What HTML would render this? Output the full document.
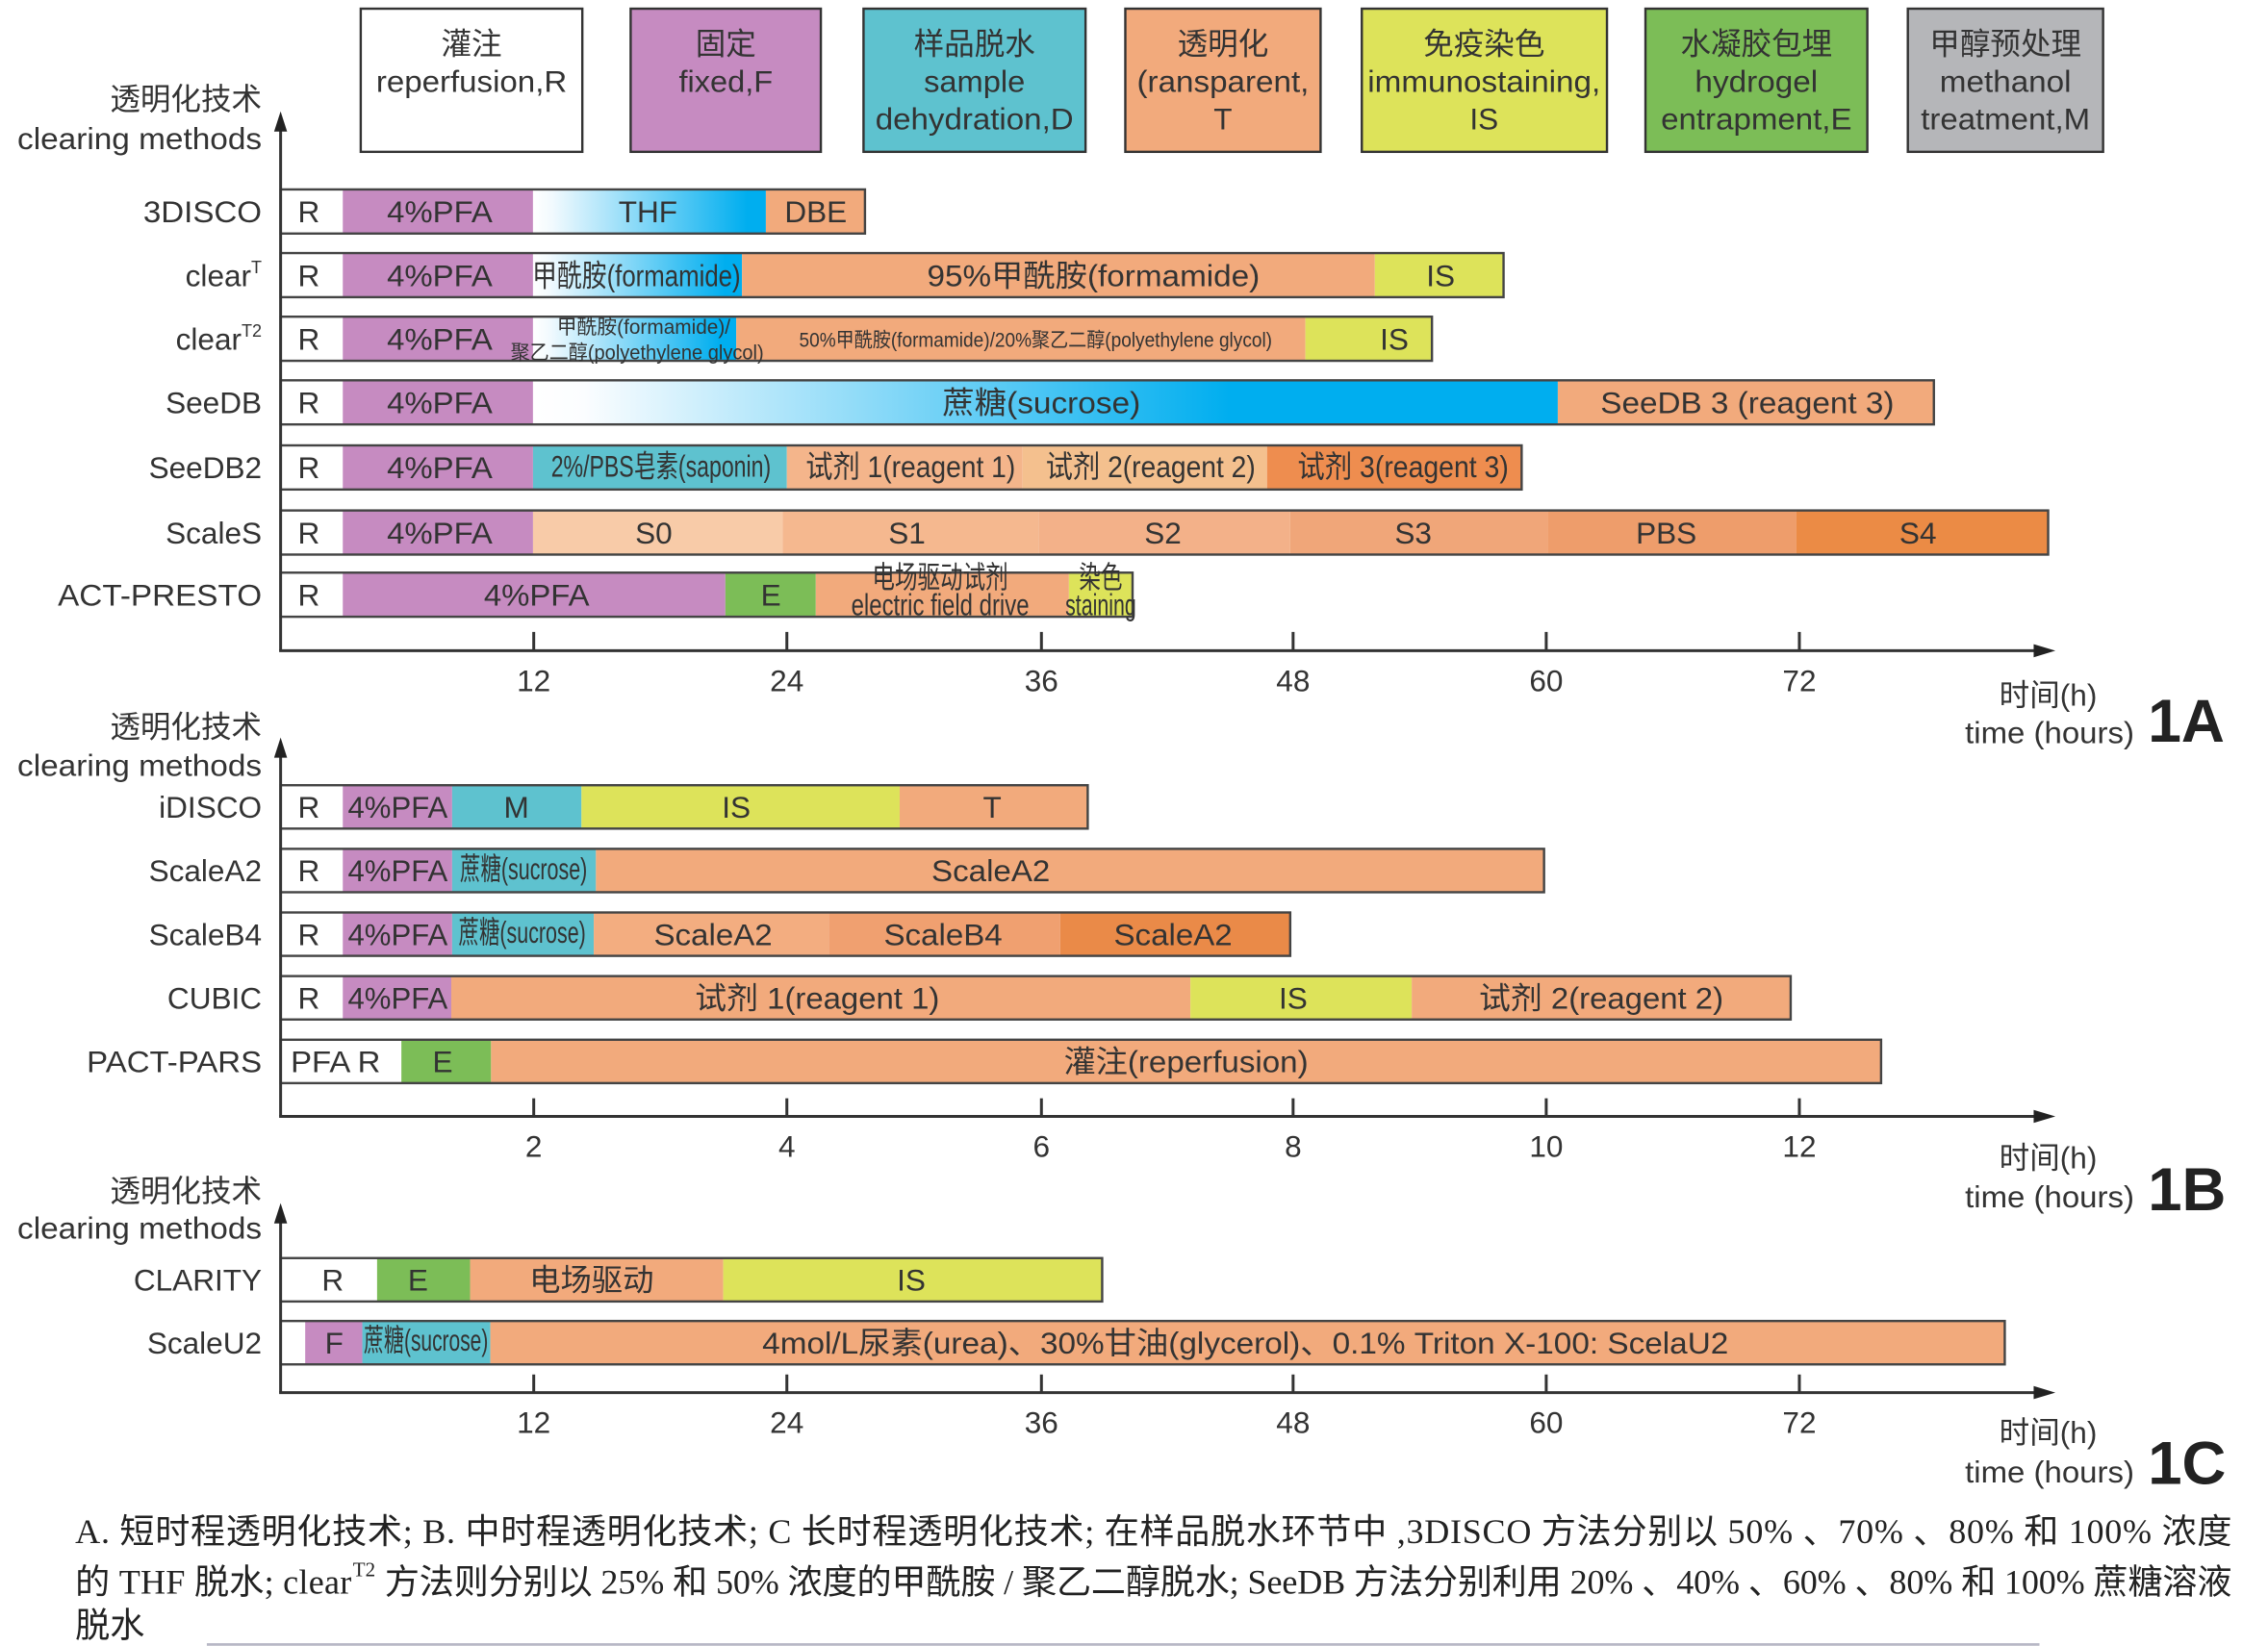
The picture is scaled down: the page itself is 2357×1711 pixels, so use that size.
<!DOCTYPE html>
<html>
<head>
<meta charset="utf-8">
<style>
html,body{margin:0;padding:0;background:#fff;}
svg{display:block;}
text{font-family:"Liberation Sans","Noto Sans CJK SC",sans-serif;fill:#333;font-size:21px;}
.cap{font-family:"Liberation Serif","Noto Sans CJK SC",serif;font-size:24px;fill:#222;}
.sm{font-size:14px;}
.b{font-weight:bold;font-size:42px;fill:#222;}
</style>
</head>
<body>
<svg xmlns="http://www.w3.org/2000/svg" width="2357" height="1711" viewBox="0 0 1568 1138.25" preserveAspectRatio="none">
<defs>
<linearGradient id="gA" x1="0" y1="0" x2="1" y2="0">
<stop offset="0" stop-color="#ffffff"/><stop offset="0.08" stop-color="#f2fafe"/><stop offset="0.92" stop-color="#00aeef"/><stop offset="1" stop-color="#00aeef"/>
</linearGradient>
<linearGradient id="gS" x1="0" y1="0" x2="1" y2="0">
<stop offset="0" stop-color="#ffffff"/><stop offset="0.05" stop-color="#fbfdff"/><stop offset="0.68" stop-color="#00aeef"/><stop offset="1" stop-color="#00aeef"/>
</linearGradient>
</defs>

<!-- Header legend boxes -->
<g stroke="#333" stroke-width="1.6">
<rect x="249.4" y="6" width="153.2" height="99" fill="#ffffff"/>
<rect x="436" y="6" width="131.5" height="99" fill="#c68bc1"/>
<rect x="597" y="6" width="153.5" height="99" fill="#5ec2cf"/>
<rect x="778" y="6" width="135" height="99" fill="#f2aa7c"/>
<rect x="941.5" y="6" width="169.5" height="99" fill="#dde35a"/>
<rect x="1137.6" y="6" width="153.4" height="99" fill="#7cbd57"/>
<rect x="1319" y="6" width="135" height="99" fill="#b5b6b9"/>
</g>
<g text-anchor="middle">
<text x="326" y="37.5">灌注</text>
<text x="326" y="63.5" textLength="132" lengthAdjust="spacingAndGlyphs">reperfusion,R</text>
<text x="501.8" y="37.5">固定</text>
<text x="501.8" y="63.5" textLength="65" lengthAdjust="spacingAndGlyphs">fixed,F</text>
<text x="673.7" y="37.5">样品脱水</text>
<text x="673.7" y="63.5" textLength="70" lengthAdjust="spacingAndGlyphs">sample</text>
<text x="673.7" y="89.5" textLength="137" lengthAdjust="spacingAndGlyphs">dehydration,D</text>
<text x="845.5" y="37.5">透明化</text>
<text x="845.5" y="63.5" textLength="119" lengthAdjust="spacingAndGlyphs">(ransparent,</text>
<text x="845.5" y="89.5">T</text>
<text x="1026" y="37.5">免疫染色</text>
<text x="1026" y="63.5" textLength="161" lengthAdjust="spacingAndGlyphs">immunostaining,</text>
<text x="1026" y="89.5">IS</text>
<text x="1214.3" y="37.5">水凝胶包埋</text>
<text x="1214.3" y="63.5" textLength="85" lengthAdjust="spacingAndGlyphs">hydrogel</text>
<text x="1214.3" y="89.5" textLength="132" lengthAdjust="spacingAndGlyphs">entrapment,E</text>
<text x="1386.5" y="37.5">甲醇预处理</text>
<text x="1386.5" y="63.5" textLength="91" lengthAdjust="spacingAndGlyphs">methanol</text>
<text x="1386.5" y="89.5" textLength="117" lengthAdjust="spacingAndGlyphs">treatment,M</text>
</g>

<!-- Axis titles -->
<g text-anchor="end">
<text x="181" y="76" font-size="22">透明化技术</text>
<text x="181" y="103" textLength="169" lengthAdjust="spacingAndGlyphs">clearing methods</text>
<text x="181" y="510" font-size="22">透明化技术</text>
<text x="181" y="536.5" textLength="169" lengthAdjust="spacingAndGlyphs">clearing methods</text>
<text x="181" y="831" font-size="22">透明化技术</text>
<text x="181" y="856.5" textLength="169" lengthAdjust="spacingAndGlyphs">clearing methods</text>
</g>

<!-- Row labels -->
<g text-anchor="end">
<text x="181" y="153.8" textLength="82" lengthAdjust="spacingAndGlyphs">3DISCO</text>
<text x="181" y="197.8">clear<tspan font-size="12" dy="-9">T</tspan></text>
<text x="181" y="241.8">clear<tspan font-size="12" dy="-9">T2</tspan></text>
<text x="181" y="285.8">SeeDB</text>
<text x="181" y="330.8">SeeDB2</text>
<text x="181" y="375.8">ScaleS</text>
<text x="181" y="418.8" textLength="141" lengthAdjust="spacingAndGlyphs">ACT-PRESTO</text>
<text x="181" y="565.5">iDISCO</text>
<text x="181" y="609.5">ScaleA2</text>
<text x="181" y="653.5">ScaleB4</text>
<text x="181" y="697.5">CUBIC</text>
<text x="181" y="741.5" textLength="121" lengthAdjust="spacingAndGlyphs">PACT-PARS</text>
<text x="181" y="892.5">CLARITY</text>
<text x="181" y="936">ScaleU2</text>
</g>

<!-- ===== Section A bars ===== -->
<!-- 3DISCO -->
<rect x="194" y="131" width="43" height="30.5" fill="#fff"/>
<rect x="237" y="131" width="131.5" height="30.5" fill="#c68bc1"/>
<rect x="368.5" y="131" width="161" height="30.5" fill="url(#gA)"/>
<rect x="529.5" y="131" width="68.5" height="30.5" fill="#f2aa7c"/>
<rect x="194" y="131" width="404" height="30.5" fill="none" stroke="#444" stroke-width="1.6"/>
<!-- clearT -->
<rect x="194" y="175" width="43" height="30.5" fill="#fff"/>
<rect x="237" y="175" width="131.5" height="30.5" fill="#c68bc1"/>
<rect x="368.5" y="175" width="144.5" height="30.5" fill="url(#gA)"/>
<rect x="513" y="175" width="437.5" height="30.5" fill="#f2aa7c"/>
<rect x="950.5" y="175" width="89" height="30.5" fill="#dde35a"/>
<rect x="194" y="175" width="845.5" height="30.5" fill="none" stroke="#444" stroke-width="1.6"/>
<!-- clearT2 -->
<rect x="194" y="219" width="43" height="30.5" fill="#fff"/>
<rect x="237" y="219" width="131.5" height="30.5" fill="#c68bc1"/>
<rect x="368.5" y="219" width="140.5" height="30.5" fill="url(#gA)"/>
<rect x="509" y="219" width="393.5" height="30.5" fill="#f2aa7c"/>
<rect x="902.5" y="219" width="87.5" height="30.5" fill="#dde35a"/>
<rect x="194" y="219" width="796" height="30.5" fill="none" stroke="#444" stroke-width="1.6"/>
<!-- SeeDB -->
<rect x="194" y="263" width="43" height="30.5" fill="#fff"/>
<rect x="237" y="263" width="131.5" height="30.5" fill="#c68bc1"/>
<rect x="368.5" y="263" width="708.5" height="30.5" fill="url(#gS)"/>
<rect x="1077" y="263" width="260" height="30.5" fill="#f2aa7c"/>
<rect x="194" y="263" width="1143" height="30.5" fill="none" stroke="#444" stroke-width="1.6"/>
<!-- SeeDB2 -->
<rect x="194" y="308" width="43" height="30.5" fill="#fff"/>
<rect x="237" y="308" width="131.5" height="30.5" fill="#c68bc1"/>
<rect x="368.5" y="308" width="175.5" height="30.5" fill="#5ec2cf"/>
<rect x="544" y="308" width="163" height="30.5" fill="#f4b58b"/>
<rect x="707" y="308" width="169" height="30.5" fill="#f4c08e"/>
<rect x="876" y="308" width="176" height="30.5" fill="#ee8d4f"/>
<rect x="194" y="308" width="858" height="30.5" fill="none" stroke="#444" stroke-width="1.6"/>
<!-- ScaleS -->
<rect x="194" y="353" width="43" height="30.5" fill="#fff"/>
<rect x="237" y="353" width="131.5" height="30.5" fill="#c68bc1"/>
<rect x="368.5" y="353" width="172.5" height="30.5" fill="#f8cba8"/>
<rect x="541" y="353" width="177" height="30.5" fill="#f5b88f"/>
<rect x="718" y="353" width="174" height="30.5" fill="#f3b189"/>
<rect x="892" y="353" width="178" height="30.5" fill="#f0a679"/>
<rect x="1070" y="353" width="172" height="30.5" fill="#ee9d6b"/>
<rect x="1242" y="353" width="174" height="30.5" fill="#eb8b45"/>
<rect x="194" y="353" width="1222" height="30.5" fill="none" stroke="#444" stroke-width="1.6"/>
<!-- ACT-PRESTO -->
<rect x="194" y="396" width="43" height="30.5" fill="#fff"/>
<rect x="237" y="396" width="264.5" height="30.5" fill="#c68bc1"/>
<rect x="501.5" y="396" width="62.5" height="30.5" fill="#7cbd57"/>
<rect x="564" y="396" width="175" height="30.5" fill="#f2aa7c"/>
<rect x="739" y="396" width="44" height="30.5" fill="#dde35a"/>
<rect x="194" y="396" width="589" height="30.5" fill="none" stroke="#444" stroke-width="1.6"/>

<g text-anchor="middle">
<text x="213.5" y="153.8">R</text>
<text x="304" y="153.8" textLength="73" lengthAdjust="spacingAndGlyphs">4%PFA</text>
<text x="448" y="153.8">THF</text>
<text x="564" y="153.8">DBE</text>

<text x="213.5" y="197.8">R</text>
<text x="304" y="197.8" textLength="73" lengthAdjust="spacingAndGlyphs">4%PFA</text>
<text x="440" y="197.8" textLength="144" lengthAdjust="spacingAndGlyphs">甲酰胺(formamide)</text>
<text x="756" y="197.8" textLength="230" lengthAdjust="spacingAndGlyphs">95%甲酰胺(formamide)</text>
<text x="996" y="197.8">IS</text>

<text x="213.5" y="241.8">R</text>
<text x="304" y="241.8" textLength="73" lengthAdjust="spacingAndGlyphs">4%PFA</text>
<text class="sm" x="445" y="231" textLength="120" lengthAdjust="spacingAndGlyphs">甲酰胺(formamide)/</text>
<text class="sm" x="440.5" y="248.5" textLength="175" lengthAdjust="spacingAndGlyphs">聚乙二醇(polyethylene glycol)</text>
<text class="sm" x="716" y="240" textLength="327" lengthAdjust="spacingAndGlyphs">50%甲酰胺(formamide)/20%聚乙二醇(polyethylene glycol)</text>
<text x="964" y="241.8">IS</text>

<text x="213.5" y="285.8">R</text>
<text x="304" y="285.8" textLength="73" lengthAdjust="spacingAndGlyphs">4%PFA</text>
<text x="720" y="285.8" textLength="137" lengthAdjust="spacingAndGlyphs">蔗糖(sucrose)</text>
<text x="1208" y="285.8" textLength="203" lengthAdjust="spacingAndGlyphs">SeeDB 3 (reagent 3)</text>

<text x="213.5" y="330.8">R</text>
<text x="304" y="330.8" textLength="73" lengthAdjust="spacingAndGlyphs">4%PFA</text>
<text x="457" y="329.5" font-size="17" textLength="152" lengthAdjust="spacingAndGlyphs">2%/PBS皂素(saponin)</text>
<text x="629.5" y="330" font-size="19" textLength="145" lengthAdjust="spacingAndGlyphs">试剂 1(reagent 1)</text>
<text x="795.5" y="330" font-size="19" textLength="145" lengthAdjust="spacingAndGlyphs">试剂 2(reagent 2)</text>
<text x="970" y="330" font-size="19" textLength="146" lengthAdjust="spacingAndGlyphs">试剂 3(reagent 3)</text>

<text x="213.5" y="375.8">R</text>
<text x="304" y="375.8" textLength="73" lengthAdjust="spacingAndGlyphs">4%PFA</text>
<text x="452" y="375.8">S0</text>
<text x="627" y="375.8">S1</text>
<text x="804" y="375.8">S2</text>
<text x="977" y="375.8">S3</text>
<text x="1152" y="375.8">PBS</text>
<text x="1326" y="375.8">S4</text>

<text x="213.5" y="418.8">R</text>
<text x="371" y="418.8" textLength="73" lengthAdjust="spacingAndGlyphs">4%PFA</text>
<text x="533" y="418.8">E</text>
<text x="650" y="406.5" font-size="15" textLength="94" lengthAdjust="spacingAndGlyphs">电场驱动试剂</text>
<text x="650" y="425.5" font-size="15" textLength="123" lengthAdjust="spacingAndGlyphs">electric field drive</text>
<text x="761" y="406.5" font-size="15" textLength="30" lengthAdjust="spacingAndGlyphs">染色</text>
<text x="761" y="425.5" font-size="14" textLength="49" lengthAdjust="spacingAndGlyphs">staining</text>
</g>

<!-- Axis A -->
<g stroke="#333" stroke-width="2" fill="none">
<line x1="194" y1="88" x2="194" y2="450"/>
<line x1="193" y1="450" x2="1408" y2="450"/>
<line x1="369" y1="437" x2="369" y2="450"/>
<line x1="544" y1="437" x2="544" y2="450"/>
<line x1="720" y1="437" x2="720" y2="450"/>
<line x1="894" y1="437" x2="894" y2="450"/>
<line x1="1069" y1="437" x2="1069" y2="450"/>
<line x1="1244" y1="437" x2="1244" y2="450"/>
</g>
<polygon points="194,77 189.5,91 198.5,91" fill="#222"/>
<polygon points="1421,450 1406,445.5 1406,454.5" fill="#222"/>
<g text-anchor="middle" font-size="20">
<text x="369" y="478" font-size="20">12</text>
<text x="544" y="478" font-size="20">24</text>
<text x="720" y="478" font-size="20">36</text>
<text x="894" y="478" font-size="20">48</text>
<text x="1069" y="478" font-size="20">60</text>
<text x="1244" y="478" font-size="20">72</text>
<text x="1416" y="488">时间(h)</text>
<text x="1417" y="514" textLength="117" lengthAdjust="spacingAndGlyphs">time (hours)</text>
</g>
<text class="b" x="1485" y="513" textLength="53" lengthAdjust="spacingAndGlyphs">1A</text>

<!-- ===== Section B bars ===== -->
<!-- iDISCO -->
<rect x="194" y="543" width="43" height="30" fill="#fff"/>
<rect x="237" y="543" width="75.6" height="30" fill="#c68bc1"/>
<rect x="312.6" y="543" width="89.4" height="30" fill="#5ec2cf"/>
<rect x="402" y="543" width="220" height="30" fill="#dde35a"/>
<rect x="622" y="543" width="130" height="30" fill="#f2aa7c"/>
<rect x="194" y="543" width="558" height="30" fill="none" stroke="#444" stroke-width="1.6"/>
<!-- ScaleA2 -->
<rect x="194" y="587" width="43" height="30" fill="#fff"/>
<rect x="237" y="587" width="75.6" height="30" fill="#c68bc1"/>
<rect x="312.6" y="587" width="99.4" height="30" fill="#5ec2cf"/>
<rect x="412" y="587" width="655.5" height="30" fill="#f2aa7c"/>
<rect x="194" y="587" width="873.5" height="30" fill="none" stroke="#444" stroke-width="1.6"/>
<!-- ScaleB4 -->
<rect x="194" y="631" width="43" height="30" fill="#fff"/>
<rect x="237" y="631" width="75.6" height="30" fill="#c68bc1"/>
<rect x="312.6" y="631" width="97.9" height="30" fill="#5ec2cf"/>
<rect x="410.5" y="631" width="162.5" height="30" fill="#f3ad80"/>
<rect x="573" y="631" width="160" height="30" fill="#f0a070"/>
<rect x="733" y="631" width="159" height="30" fill="#ea8a48"/>
<rect x="194" y="631" width="698" height="30" fill="none" stroke="#444" stroke-width="1.6"/>
<!-- CUBIC -->
<rect x="194" y="675" width="43" height="30" fill="#fff"/>
<rect x="237" y="675" width="75" height="30" fill="#c68bc1"/>
<rect x="312" y="675" width="511" height="30" fill="#f2aa7c"/>
<rect x="823" y="675" width="153" height="30" fill="#dde35a"/>
<rect x="976" y="675" width="262" height="30" fill="#f2aa7c"/>
<rect x="194" y="675" width="1044" height="30" fill="none" stroke="#444" stroke-width="1.6"/>
<!-- PACT-PARS -->
<rect x="194" y="719" width="83.5" height="30" fill="#fff"/>
<rect x="277.5" y="719" width="62" height="30" fill="#7cbd57"/>
<rect x="339.5" y="719" width="961" height="30" fill="#f2aa7c"/>
<rect x="194" y="719" width="1106.5" height="30" fill="none" stroke="#444" stroke-width="1.6"/>

<g text-anchor="middle">
<text x="213.5" y="565.5">R</text>
<text x="275" y="565.5" textLength="69" lengthAdjust="spacingAndGlyphs">4%PFA</text>
<text x="357" y="565.5">M</text>
<text x="509" y="565.5">IS</text>
<text x="686" y="565.5">T</text>

<text x="213.5" y="609.5">R</text>
<text x="275" y="609.5" textLength="69" lengthAdjust="spacingAndGlyphs">4%PFA</text>
<text x="362" y="608" font-size="15" textLength="88" lengthAdjust="spacingAndGlyphs">蔗糖(sucrose)</text>
<text x="685" y="609.5" textLength="82" lengthAdjust="spacingAndGlyphs">ScaleA2</text>

<text x="213.5" y="653.5">R</text>
<text x="275" y="653.5" textLength="69" lengthAdjust="spacingAndGlyphs">4%PFA</text>
<text x="361" y="652" font-size="15" textLength="88" lengthAdjust="spacingAndGlyphs">蔗糖(sucrose)</text>
<text x="493" y="653.5" textLength="82" lengthAdjust="spacingAndGlyphs">ScaleA2</text>
<text x="652" y="653.5" textLength="82" lengthAdjust="spacingAndGlyphs">ScaleB4</text>
<text x="811" y="653.5" textLength="82" lengthAdjust="spacingAndGlyphs">ScaleA2</text>

<text x="213.5" y="697.5">R</text>
<text x="275" y="697.5" textLength="69" lengthAdjust="spacingAndGlyphs">4%PFA</text>
<text x="565" y="697.5" textLength="169" lengthAdjust="spacingAndGlyphs">试剂 1(reagent 1)</text>
<text x="894" y="697.5">IS</text>
<text x="1107" y="697.5" textLength="169" lengthAdjust="spacingAndGlyphs">试剂 2(reagent 2)</text>

<text x="232" y="741.5" textLength="62" lengthAdjust="spacingAndGlyphs">PFA R</text>
<text x="306" y="741.5">E</text>
<text x="820" y="741.5" textLength="169" lengthAdjust="spacingAndGlyphs">灌注(reperfusion)</text>
</g>

<!-- Axis B -->
<g stroke="#333" stroke-width="2" fill="none">
<line x1="194" y1="521" x2="194" y2="772"/>
<line x1="193" y1="772" x2="1408" y2="772"/>
<line x1="369" y1="759.5" x2="369" y2="772"/>
<line x1="544" y1="759.5" x2="544" y2="772"/>
<line x1="720" y1="759.5" x2="720" y2="772"/>
<line x1="894" y1="759.5" x2="894" y2="772"/>
<line x1="1069" y1="759.5" x2="1069" y2="772"/>
<line x1="1244" y1="759.5" x2="1244" y2="772"/>
</g>
<polygon points="194,510 189.5,524 198.5,524" fill="#222"/>
<polygon points="1421,772 1406,767.5 1406,776.5" fill="#222"/>
<g text-anchor="middle">
<text x="369" y="800" font-size="20">2</text>
<text x="544" y="800" font-size="20">4</text>
<text x="720" y="800" font-size="20">6</text>
<text x="894" y="800" font-size="20">8</text>
<text x="1069" y="800" font-size="20">10</text>
<text x="1244" y="800" font-size="20">12</text>
<text x="1416" y="808">时间(h)</text>
<text x="1417" y="835" textLength="117" lengthAdjust="spacingAndGlyphs">time (hours)</text>
</g>
<text class="b" x="1485" y="837" textLength="54" lengthAdjust="spacingAndGlyphs">1B</text>

<!-- ===== Section C bars ===== -->
<rect x="194" y="870" width="66.7" height="30" fill="#fff"/>
<rect x="260.7" y="870" width="64.3" height="30" fill="#7cbd57"/>
<rect x="325" y="870" width="175" height="30" fill="#f2aa7c"/>
<rect x="500" y="870" width="262" height="30" fill="#dde35a"/>
<rect x="194" y="870" width="568" height="30" fill="none" stroke="#444" stroke-width="1.6"/>

<rect x="194" y="913.5" width="17" height="30" fill="#fff"/>
<rect x="211" y="913.5" width="39.5" height="30" fill="#c68bc1"/>
<rect x="250.5" y="913.5" width="88.5" height="30" fill="#5ec2cf"/>
<rect x="339" y="913.5" width="1047" height="30" fill="#f2aa7c"/>
<rect x="194" y="913.5" width="1192" height="30" fill="none" stroke="#444" stroke-width="1.6"/>

<g text-anchor="middle">
<text x="230" y="892.5">R</text>
<text x="289" y="892.5">E</text>
<text x="409" y="892.5" textLength="86" lengthAdjust="spacingAndGlyphs">电场驱动</text>
<text x="630" y="892.5">IS</text>
<text x="231" y="936">F</text>
<text x="294.5" y="934" font-size="14" textLength="86" lengthAdjust="spacingAndGlyphs">蔗糖(sucrose)</text>
<text x="861" y="936" textLength="668" lengthAdjust="spacingAndGlyphs">4mol/L尿素(urea)、30%甘油(glycerol)、0.1% Triton X-100: ScelaU2</text>
</g>

<!-- Axis C -->
<g stroke="#333" stroke-width="2" fill="none">
<line x1="194" y1="843" x2="194" y2="963"/>
<line x1="193" y1="963" x2="1408" y2="963"/>
<line x1="369" y1="950.5" x2="369" y2="963"/>
<line x1="544" y1="950.5" x2="544" y2="963"/>
<line x1="720" y1="950.5" x2="720" y2="963"/>
<line x1="894" y1="950.5" x2="894" y2="963"/>
<line x1="1069" y1="950.5" x2="1069" y2="963"/>
<line x1="1244" y1="950.5" x2="1244" y2="963"/>
</g>
<polygon points="194,832 189.5,846 198.5,846" fill="#222"/>
<polygon points="1421,963 1406,958.5 1406,967.5" fill="#222"/>
<g text-anchor="middle">
<text x="369" y="991" font-size="20">12</text>
<text x="544" y="991" font-size="20">24</text>
<text x="720" y="991" font-size="20">36</text>
<text x="894" y="991" font-size="20">48</text>
<text x="1069" y="991" font-size="20">60</text>
<text x="1244" y="991" font-size="20">72</text>
<text x="1416" y="998">时间(h)</text>
<text x="1417" y="1025" textLength="117" lengthAdjust="spacingAndGlyphs">time (hours)</text>
</g>
<text class="b" x="1485" y="1026" textLength="54" lengthAdjust="spacingAndGlyphs">1C</text>

<!-- Caption -->
<text class="cap" x="52" y="1067" textLength="1491" lengthAdjust="spacing">A. 短时程透明化技术; B. 中时程透明化技术; C 长时程透明化技术; 在样品脱水环节中 ,3DISCO 方法分别以 50% 、70% 、80% 和 100% 浓度</text>
<text class="cap" x="52" y="1102" textLength="191" lengthAdjust="spacing">的 THF 脱水; clear</text>
<text class="cap" x="244" y="1090" font-size="14" style="font-size:14px">T2</text>
<text class="cap" x="266" y="1102" textLength="1277" lengthAdjust="spacing">方法则分别以 25% 和 50% 浓度的甲酰胺 / 聚乙二醇脱水; SeeDB 方法分别利用 20% 、40% 、60% 、80% 和 100% 蔗糖溶液</text>
<text class="cap" x="52" y="1132">脱水</text>

<rect x="143" y="1136.3" width="1267" height="1.8" fill="#9a9aae" opacity="0.7"/>
</svg>
</body>
</html>
